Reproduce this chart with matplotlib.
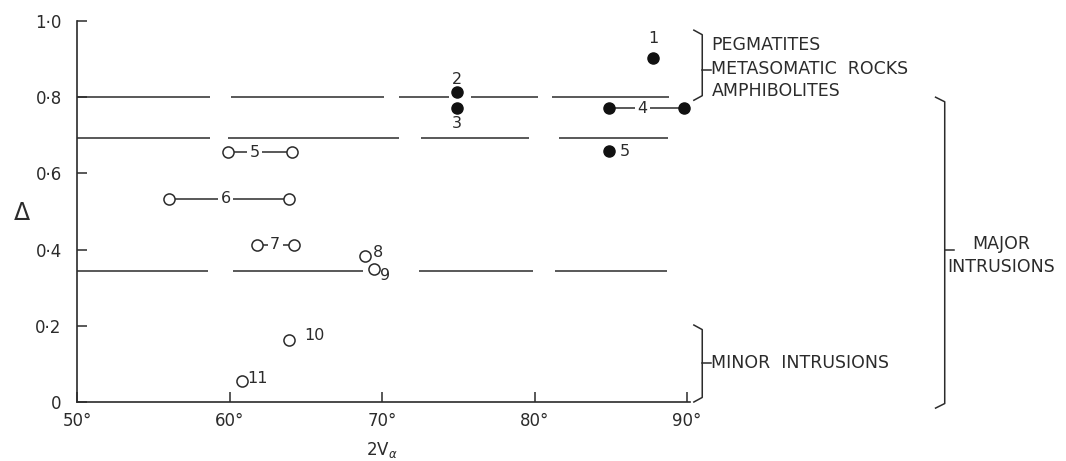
import matplotlib
matplotlib.use("Agg")
import matplotlib.pyplot as plt

# 2V(alpha) vs Delta, grouped by rock type

# filled circles (single values or ranges joined by a line)
solid_ids = ["1", "2", "3", "4", "5"]
solid_lo = [87.8, 74.9, 74.9, 84.9, 84.9]
solid_hi = [87.8, 74.9, 74.9, 89.8, 84.9]
solid_delta = [0.903, 0.813, 0.771, 0.771, 0.658]

# open circles
open_ids = ["5", "6", "7", "8", "9", "10", "11"]
open_lo = [59.9, 56.0, 61.8, 68.9, 69.5, 63.9, 60.85]
open_hi = [64.1, 63.9, 64.2, 68.9, 69.5, 63.9, 60.85]
open_delta = [0.655, 0.534, 0.413, 0.384, 0.350, 0.163, 0.055]

# broken horizontal boundary lines
boundary_delta = [0.800, 0.692, 0.345]
boundary_segments = [
    [(50.0, 58.75), (60.07, 70.13), (71.12, 74.41), (75.86, 80.26), (81.18, 88.82)],
    [(50.0, 58.75), (59.93, 71.12), (72.57, 79.67), (81.58, 88.75)],
    [(50.0, 58.62), (60.2, 68.75), (72.43, 79.93), (81.32, 88.68)],
]

x_ticks = [50, 60, 70, 80, 90]
x_ticklabels = ["50°", "60°", "70°", "80°", "90°"]
y_ticks = [0.0, 0.2, 0.4, 0.6, 0.8, 1.0]
y_ticklabels = ["0", "0·2", "0·4", "0·6", "0·8", "1·0"]

ink = "#2b2b2b"
plt.rcParams["font.family"] = ["DejaVu Sans"]

fig = plt.figure(figsize=(10.66, 4.61), dpi=100, facecolor="white")
ax = fig.add_axes([77 / 1066, 59 / 461, 610 / 1066, 381 / 461])
ax.set_xlim(50, 90)
ax.set_ylim(0, 1.0)
for s in ["top", "right"]:
    ax.spines[s].set_visible(False)
for s in ["left", "bottom"]:
    ax.spines[s].set_color(ink)
    ax.spines[s].set_linewidth(1.2)
ax.spines["bottom"].set_bounds(50, 90.2)

ax.set_xticks(x_ticks)
ax.set_xticklabels(x_ticklabels)
ax.set_yticks(y_ticks)
ax.set_yticklabels(y_ticklabels)
ax.tick_params(direction="in", length=7, width=1.1, color=ink,
               labelcolor=ink, labelsize=12)
ax.tick_params(axis="y", pad=11)
ax.tick_params(axis="x", pad=7)

# boundary lines
for d, segs in zip(boundary_delta, boundary_segments):
    for a, b in segs:
        ax.plot([a, b], [d, d], color=ink, lw=1.1, solid_capstyle="butt")

# joins for ranges
for lo, hi, d in zip(solid_lo, solid_hi, solid_delta):
    if hi > lo:
        ax.plot([lo, hi], [d, d], color=ink, lw=1.1, zorder=2)
for lo, hi, d in zip(open_lo, open_hi, open_delta):
    if hi > lo:
        ax.plot([lo, hi], [d, d], color=ink, lw=1.1, zorder=2)

# points
sx = solid_lo + [h for l, h in zip(solid_lo, solid_hi) if h > l]
sy = solid_delta + [d for l, h, d in zip(solid_lo, solid_hi, solid_delta) if h > l]
ax.plot(sx, sy, "o", ms=8, color="#111111", zorder=4, clip_on=False)
ox = open_lo + [h for l, h in zip(open_lo, open_hi) if h > l]
oy = open_delta + [d for l, h, d in zip(open_lo, open_hi, open_delta) if h > l]
ax.plot(ox, oy, "o", ms=8, mfc="white", mec=ink, mew=1.1, zorder=4, clip_on=False)

# point numbers
lab_kw = dict(color=ink, fontsize=11.5, ha="center", va="center",
              textcoords="offset points", zorder=5)
gap_box = dict(boxstyle="square,pad=0.15", fc="white", ec="none")
solid_offsets = {"1": (0, 14), "2": (0, 9), "3": (0, -11), "5": (11.5, 0)}
for i, lo, hi, d in zip(solid_ids, solid_lo, solid_hi, solid_delta):
    if hi > lo:
        ax.annotate(i, (lo + 0.44 * (hi - lo), d), xytext=(0, 0),
                    bbox=gap_box, **lab_kw)
    else:
        ax.annotate(i, (lo, d), xytext=solid_offsets[i], **lab_kw)
pair_frac = {"5": 0.42, "6": 0.475, "7": 0.5}
open_offsets = {"8": (9, 2), "9": (8, -5), "10": (18, 3), "11": (11, 2)}
for i, lo, hi, d in zip(open_ids, open_lo, open_hi, open_delta):
    if hi > lo:
        ax.annotate(i, (lo + pair_frac[i] * (hi - lo), d), xytext=(0, 0),
                    bbox=gap_box, **lab_kw)
    else:
        ax.annotate(i, (lo, d), xytext=open_offsets[i], **lab_kw)

# axis labels
fig.text(22 / 1066, 1 - 213 / 461, "Δ", fontsize=17, color=ink,
         ha="center", va="center")
fig.text(382 / 1066, 1 - 450 / 461, "2V$_{\\alpha}$", fontsize=12, color=ink,
         ha="center", va="center")


# right hand braces (data coords, outside the axes)
def brace(x0, x1, ytop, ybot, ymid, tick=0.6, hook=0.012):
    ax.plot([x0, x1, x1, x0], [ytop, ytop - hook, ybot + hook, ybot],
            color=ink, lw=1.1, clip_on=False)
    ax.plot([x1, x1 + tick], [ymid, ymid], color=ink, lw=1.1, clip_on=False)


brace(90.45, 91.0, 0.976, 0.792, 0.871)
brace(90.45, 91.0, 0.202, 0.0, 0.102)
brace(106.3, 106.9, 0.800, -0.016, 0.400)

txt_kw = dict(color=ink, fontsize=12.5, clip_on=False)
ax.text(91.6, 0.937, "PEGMATITES", va="center", ha="left", **txt_kw)
ax.text(91.6, 0.874, "METASOMATIC  ROCKS", va="center", ha="left", **txt_kw)
ax.text(91.6, 0.816, "AMPHIBOLITES", va="center", ha="left", **txt_kw)
ax.text(91.6, 0.102, "MINOR  INTRUSIONS", va="center", ha="left", **txt_kw)
ax.text(110.6, 0.384, "MAJOR\nINTRUSIONS", va="center", ha="center",
        linespacing=1.4, **txt_kw)

fig.savefig("out.png", dpi=100, facecolor="white")
